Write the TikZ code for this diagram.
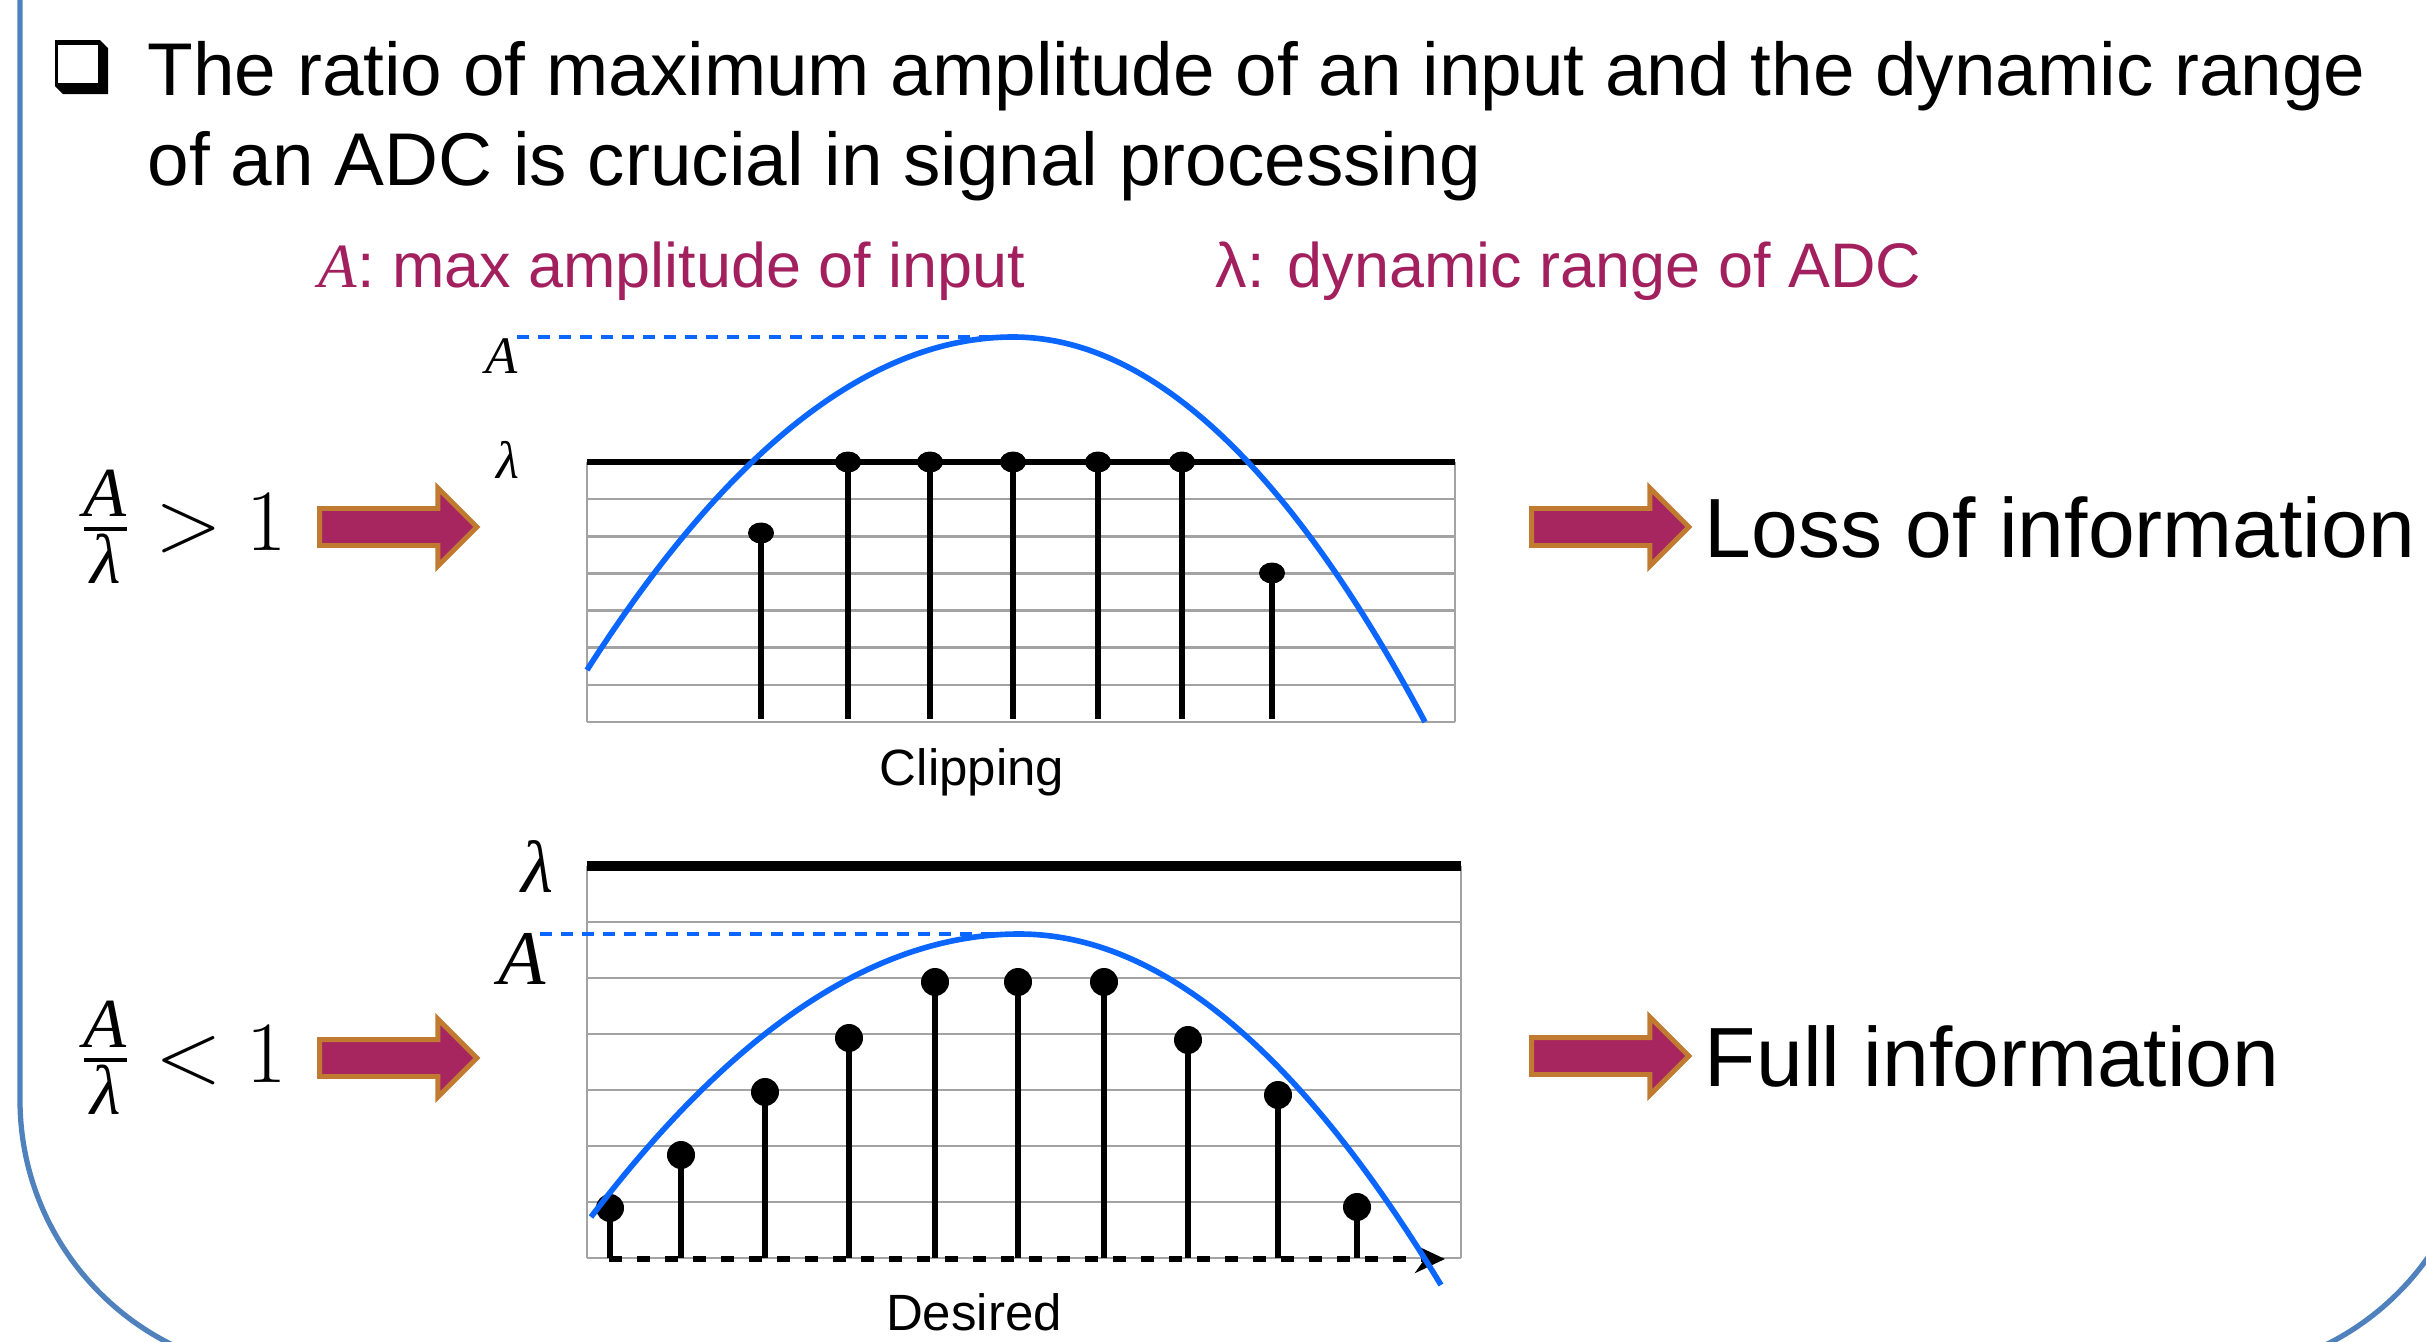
\documentclass[tikz,border=0pt]{standalone}
\usepackage{amsmath}
\usepackage{fontspec}
\setmainfont{Liberation Sans}
\newfontfamily\symfont{Liberation Serif}
\usepackage{xcolor}
\usetikzlibrary{shapes.arrows, arrows.meta, positioning}

\definecolor{framecol}{HTML}{4F81BD}
\definecolor{sigblue}{HTML}{0A66FF}
\definecolor{notecol}{HTML}{A3205F}
\definecolor{arrowfill}{HTML}{A7265F}
\definecolor{arrowedge}{HTML}{C17B30}
\definecolor{gridcol}{HTML}{A3A3A3}

\newcommand{\symA}{\text{\fontsize{20pt}{20pt}\symfont\itshape A}}
\newcommand{\symL}{\text{\fontsize{20pt}{20pt}\symfont\itshape λ}}

\begin{document}
\begin{tikzpicture}[
        x=0.01cm, y=-0.01cm,
        node distance=0.12cm,
        txt/.style={inner sep=0pt, font=#1},
        blockarrow/.style={single arrow, draw=arrowedge, fill=arrowfill, line width=1.4pt,
            minimum height=1.57cm, minimum width=0.73cm, single arrow head extend=0.205cm,
            inner xsep=0pt, inner ysep=0.16cm},
        gridline/.style={draw=gridcol, line width=0.7pt},
        limit/.style={line width=#1},
        stem/.style={line width=1.6pt},
        signal/.style={draw=sigblue, line width=1.6pt},
        alevel/.style={draw=sigblue, line width=1.4pt, dash pattern=on 0.12cm off 0.09cm},
        timeaxis/.style={-{Stealth[length=0.3cm, width=0.28cm]}, line width=1.9pt,
            dash pattern=on 0.13cm off 0.15cm}
    ]
    \useasboundingbox (0,0) rectangle (2426,1342);

    % frame
    \begin{scope}
        \clip (0,0) rectangle (2426,1342);
        \draw[framecol, line width=1.5pt, rounded corners=2.73cm] (20,-300) rectangle (2478,1373);
    \end{scope}

    % heading
    \fill (55,40) -- (100,40) -- (108,48) -- (108,94) -- (63,94) -- (55,86) -- cycle;
    \fill[white] (58,45) rectangle (98,83);
    \node (head1) [txt=\fontsize{21.25pt}{25pt}\selectfont, anchor=base west] at (147,95)
        {The ratio of maximum amplitude of an input and the dynamic range};
    \node (head2) [txt=\fontsize{21.25pt}{25pt}\selectfont, anchor=base west] at (147,185)
        {of an ADC is crucial in signal processing};
    \node (noteA) [txt=\fontsize{17.9pt}{21pt}\selectfont, text=notecol, anchor=base west] at (318,287)
        {{\symfont\itshape A}: max amplitude of input};
    \node (noteL) [txt=\fontsize{17.9pt}{21pt}\selectfont, text=notecol, anchor=base west] at (1215,287)
        {λ: dynamic range of ADC};

    % clipping plot
    \foreach \i in {1,...,7}
        \draw[gridline] (587,{462+37.14*\i}) -- (1455,{462+37.14*\i});
    \draw[gridline] (587,462) -- (587,722);
    \draw[gridline] (1455,462) -- (1455,722);
    \draw[limit=1.8pt] (587,462) -- (1455,462);
    \foreach \x/\t in {761/533, 848/462, 930/462, 1013/462, 1098/462, 1182/462, 1272/573} {
        \draw[stem] (\x,719) -- (\x,\t);
        \fill (\x,\t) ellipse [x radius=0.13cm, y radius=0.105cm];
    }
    \coordinate (peakTop) at (1013,337);
    \draw[alevel] (517,337) -- (peakTop);
    \draw[signal] (587,670) .. controls (729,448) and (871,337) .. (peakTop)
        .. controls (1150,337) and (1288,465) .. (1425,722);
    \node (aTop) [txt=\fontsize{15pt}{17pt}\symfont\itshape] at (502,356) {A};
    \node (lamTop) [txt=\fontsize{15pt}{17pt}\symfont\itshape] at (508,460) {λ};
    \node (clip) [txt=\fontsize{14.5pt}{17pt}\selectfont, anchor=base] at (972,785) {Clipping};

    % desired plot
    \foreach \i in {1,...,7}
        \draw[gridline] (587,{866+56*\i}) -- (1461,{866+56*\i});
    \draw[gridline] (587,866) -- (587,1258);
    \draw[gridline] (1461,866) -- (1461,1258);
    \draw[limit=2.8pt] (587,866) -- (1461,866);
    \foreach \x/\t in {610/1208, 681/1155, 765/1092, 849/1038, 935/982, 1018/982, 1104/982,
                       1188/1040, 1278/1095, 1357/1207} {
        \draw[stem] (\x,1258) -- (\x,\t);
        \fill (\x,\t) circle [radius=0.14cm];
    }
    \coordinate (axisStart) at (609,1259);
    \coordinate (axisEnd) at (1445,1259);
    \draw[timeaxis] (axisStart) -- (axisEnd);
    \coordinate (peakBot) at (1019,934);
    \draw[alevel] (540,934) -- (peakBot);
    \draw[signal] (591,1217) .. controls (734,1029) and (876,934) .. (peakBot)
        .. controls (1160,934) and (1300,1052) .. (1441,1285);
    \node (lamBot) [txt=\fontsize{21pt}{25pt}\symfont\itshape] at (537,866) {λ};
    \node (aBot) [txt=\fontsize{22pt}{25pt}\symfont\itshape] at (522,959) {A};
    \node (desired) [txt=\fontsize{14.5pt}{17pt}\selectfont, anchor=base] at (974,1330) {Desired};

    % cases
    \node (arrowL1) [blockarrow] at (389,527) {};
    \node (arrowL2) [blockarrow] at (389,1058) {};
    \node (ratioHi) [txt=\fontsize{27pt}{30pt}\selectfont, left=0.3cm of arrowL1] {$\frac{\symA}{\symL} > 1$};
    \node (ratioLo) [txt=\fontsize{27pt}{30pt}\selectfont, left=0.3cm of arrowL2] {$\frac{\symA}{\symL} < 1$};
    \node (arrowR1) [blockarrow] at (1601,527) {};
    \node (arrowR2) [blockarrow] at (1601,1056) {};
    \node (loss) [txt=\fontsize{23.9pt}{28pt}\selectfont, right=of arrowR1] {Loss of information};
    \node (full) [txt=\fontsize{23.9pt}{28pt}\selectfont, right=of arrowR2] {Full information};

\end{tikzpicture}
\end{document}
